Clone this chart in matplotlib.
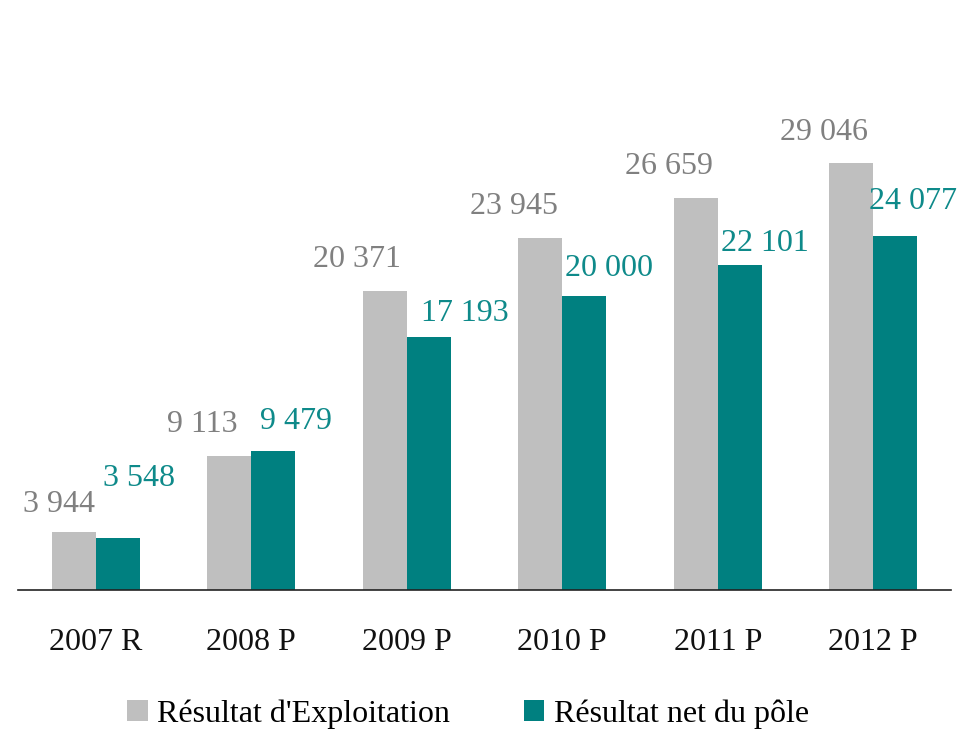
import matplotlib
matplotlib.use("Agg")
import matplotlib.pyplot as plt
from matplotlib.patches import Patch
import numpy as np

plt.rcParams['font.family'] = ['Liberation Serif', 'DejaVu Serif']

# Data
categories = ["2007 R", "2008 P", "2009 P", "2010 P", "2011 P", "2012 P"]
exploitation = [3944, 9113, 20371, 23945, 26659, 29046]
net_pole = [3548, 9479, 17193, 20000, 22101, 24077]
series_names = ["Résultat d'Exploitation", "Résultat net du pôle"]

# Styling
GREY = "#BFBFBF"
TEAL = "#008080"
GREY_TXT = "#808080"
TEAL_TXT = "#0E8A8A"
FS = 23

# Label offsets in pixels (dx, dy) from the top-centre of each bar
grey_dx = [-15, -27, -28, -26, -27, -27]
grey_dy = [28, 32, 31, 31, 31.5, 31]
teal_dx = [21, 23, 36, 25, 25, 18]
teal_dy = [59.5, 29, 24, 27.5, 21.5, 35]

W, H, DPI = 970, 731, 100
fig = plt.figure(figsize=(W / DPI, H / DPI), dpi=DPI)

y_max = 36000
px_per_unit = 427 / 29046
ax_h_px = y_max * px_per_unit
ax = fig.add_axes([18 / W, 141 / H, (951 - 18) / W, ax_h_px / H])

x = np.arange(len(categories))
bw = 0.284
b1 = ax.bar(x - bw / 2, exploitation, bw, color=GREY, linewidth=0)
b2 = ax.bar(x + bw / 2, net_pole, bw, color=TEAL, linewidth=0)

ax.set_xlim(-0.5, len(categories) - 0.5)
ax.set_ylim(0, y_max)

pt = 72 / DPI


def fmt(v):
    return f"{v:,}".replace(",", " ")


for i, (bar, v) in enumerate(zip(b1, exploitation)):
    ax.annotate(fmt(v), (bar.get_x() + bar.get_width() / 2, v),
                xytext=(grey_dx[i] * pt, grey_dy[i] * pt), textcoords="offset points",
                ha="center", va="center", fontsize=FS, color=GREY_TXT)
for i, (bar, v) in enumerate(zip(b2, net_pole)):
    ax.annotate(fmt(v), (bar.get_x() + bar.get_width() / 2, v),
                xytext=(teal_dx[i] * pt, teal_dy[i] * pt), textcoords="offset points",
                ha="center", va="center", fontsize=FS, color=TEAL_TXT)

for s in ["top", "right", "left"]:
    ax.spines[s].set_visible(False)
ax.spines["bottom"].set_color("#222222")
ax.spines["bottom"].set_linewidth(1.2)
ax.set_yticks([])
ax.set_xticks(x)
ax.set_xticklabels(categories, fontsize=FS, color="#111111")
ax.tick_params(axis="x", length=0, pad=27.5)

handles = [Patch(facecolor=GREY, edgecolor="none"), Patch(facecolor=TEAL, edgecolor="none")]
fig.legend(handles, series_names, loc="center", bbox_to_anchor=(468 / W, 1 - 714 / H),
           ncol=2, frameon=False, fontsize=FS, handlelength=0.65, handleheight=0.65,
           handletextpad=0.3, columnspacing=2.3, borderaxespad=0, borderpad=0)

fig.savefig("out.png", dpi=DPI)
